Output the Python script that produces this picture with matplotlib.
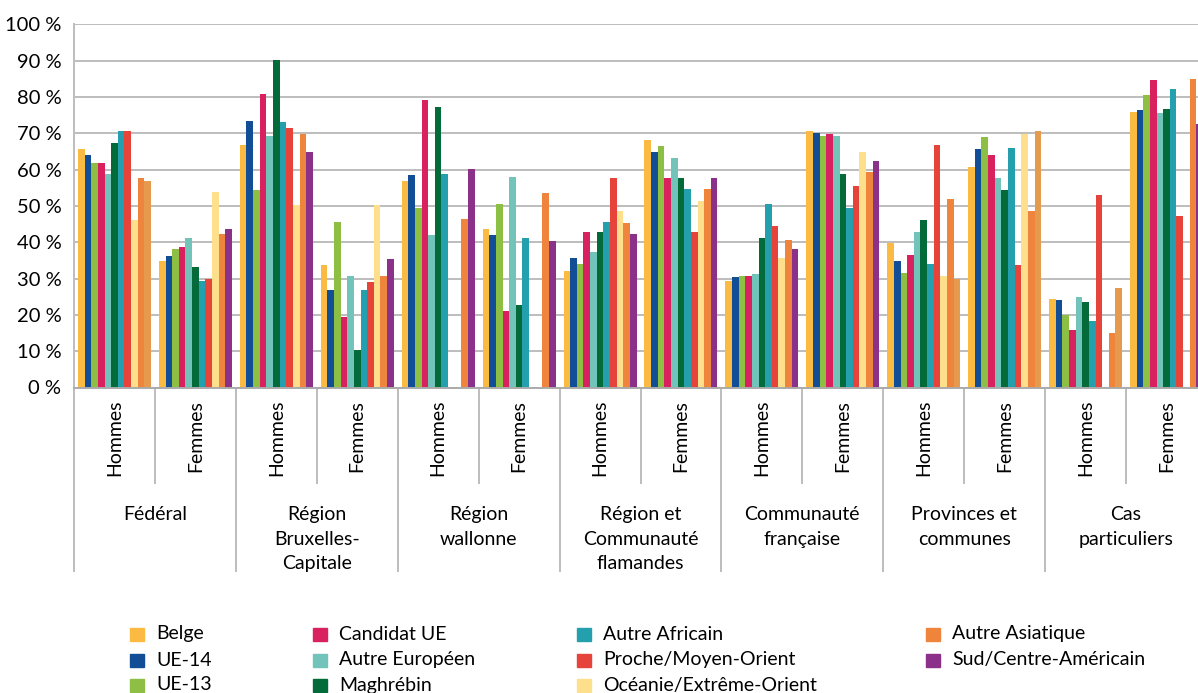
import numpy as np
import matplotlib
matplotlib.use("Agg")
import matplotlib.pyplot as plt
import matplotlib.transforms as mtransforms
from matplotlib.patches import Rectangle

plt.rcParams['font.family'] = ['Lato', 'DejaVu Sans']

nan = np.nan

# groupes : 7 niveaux x (Hommes, Femmes)
niveaux = ["Fédéral", "Région\nBruxelles-\nCapitale", "Région\nwallonne",
           "Région et\nCommunauté\nflamandes", "Communauté\nfrançaise",
           "Provinces et\ncommunes", "Cas\nparticuliers"]
sexes = ["Hommes", "Femmes"]

series = ["Belge", "UE-14", "UE-13", "Candidat UE", "Autre Européen", "Maghrébin",
          "Autre Africain", "Proche/Moyen-Orient", "Océanie/Extrême-Orient",
          "Autre Asiatique", "Sud/Centre-Américain"]

belge      = [65.7, 34.7, 66.8, 33.7, 56.8, 43.6, 32.0, 68.1, 29.3, 70.6, 39.8, 60.7, 24.3, 75.8]
ue14       = [64.0, 36.2, 73.4, 26.8, 58.5, 42.0, 35.6, 64.8, 30.4, 70.1, 34.8, 65.7, 24.1, 76.4]
ue13       = [61.8, 38.1, 54.4, 45.5, 49.4, 50.5, 34.0, 66.5, 30.7, 69.2, 31.5, 69.0, 19.9, 80.5]
candidat   = [61.8, 38.7, 80.8, 19.4, 79.2, 21.0, 42.8, 57.7, 30.7, 69.8, 36.5, 64.0, 15.8, 84.7]
autre_eur  = [58.8, 41.1, 69.2, 30.7, 42.0, 57.9, 37.3, 63.2, 31.2, 69.2, 42.8, 57.7, 24.9, 75.6]
maghreb    = [67.3, 33.1, 90.2, 10.3, 77.2, 22.7, 42.8, 57.7, 41.1, 58.8, 46.1, 54.4, 23.5, 76.7]
autre_afr  = [70.6, 29.3, 73.1, 26.8, 58.8, 41.1, 45.5, 54.6, 50.5, 49.4, 34.0, 65.9, 18.3, 82.2]
proche     = [70.6, 29.8, 71.4, 29.0, nan, nan, 57.7, 42.8, 44.4, 55.5, 66.8, 33.7, 53.0, 47.2]
oceanie    = [46.1, 53.8, 50.2, 50.2, nan, nan, 48.6, 51.3, 35.6, 64.8, 30.7, 69.8, nan, nan]
autre_asia = [57.7, 42.2, 69.9, 30.7, 46.4, 53.5, 45.3, 54.6, 40.6, 59.3, 51.9, 48.6, 15.0, 84.9]
sud_am     = [56.8, 43.6, 64.8, 35.4, 60.1, 40.3, 42.2, 57.7, 38.1, 62.4, 29.8, 70.6, 27.4, 72.5]

valeurs = [belge, ue14, ue13, candidat, autre_eur, maghreb, autre_afr,
           proche, oceanie, autre_asia, sud_am]

couleurs = ["#FBBA42", "#124E96", "#8DBF45", "#D9215F", "#72C3BA", "#036B3A",
            "#239FAD", "#E6433A", "#FEDF8C", "#EF843C", "#8B3189"]
# dans l'original, la dernière barre de certains groupes est brun-orangé
tan_groupes = [0, 10, 11, 12]

W, H = 1198, 693
fig = plt.figure(figsize=(W / 100, H / 100), dpi=100)
# axe en pixels : gauche 74, droite 1207 (coupé), bas 387.5, haut 24.3
ax = fig.add_axes([74 / W, 1 - 387.5 / H, 1133 / W, 363.2 / H])

ngr = len(niveaux) * 2
x = np.arange(ngr) + 0.5
bw = 0.082
for j, vals in enumerate(valeurs):
    cols = [couleurs[j]] * ngr
    if j == len(valeurs) - 1:
        for g in tan_groupes:
            cols[g] = "#E59A4E"
    ax.bar(x + (j - 5) * bw, vals, width=bw, color=cols, linewidth=0, zorder=3)

ax.set_xlim(0, ngr)
ax.set_ylim(0, 100)
ax.set_yticks(np.arange(0, 101, 10))
ax.set_yticklabels([f"{v} %" for v in range(0, 101, 10)], fontsize=14.5)
ax.tick_params(axis='y', length=0, pad=9)
ax.set_xticks([])
ax.grid(axis='y', color="#ABABAB", linewidth=1.1, zorder=0)
ax.set_axisbelow(True)
for s in ax.spines.values():
    s.set_visible(False)

# séparateurs sous l'axe
trans = mtransforms.blended_transform_factory(ax.transData, ax.transAxes)
sep_col = "#BDBDBD"
ax.plot([0, ngr], [0, 0], transform=trans, color="#ABABAB", lw=1.4, clip_on=False, zorder=4)
ax.plot([0, 0], [1, -0.505], transform=trans, color=sep_col, lw=1.4, clip_on=False)
for k in range(1, ngr + 1):
    y_bas = -0.263 if k % 2 == 1 else -0.505
    ax.plot([k, k], [0, y_bas], transform=trans, color=sep_col, lw=1.4, clip_on=False)

for g in range(ngr):
    ax.text(x[g], -0.034, sexes[g % 2], transform=trans, rotation=90,
            ha='center', va='top', fontsize=14)
for k, nom in enumerate(niveaux):
    ax.text(2 * k + 1, -0.326, nom, transform=trans, ha='center', va='top',
            fontsize=14, linespacing=1.55)

# légende manuelle
col_x = [130, 313, 577, 926]
row_y = [634, 660, 685]
for j, nom in enumerate(series):
    c, r = divmod(j, 3)
    px, py = col_x[c], row_y[r]
    fig.patches.append(Rectangle((px / W, 1 - (py + 6.5) / H), 14 / W, 13 / H,
                                 transform=fig.transFigure, color=couleurs[j]))
    fig.text((px + 26) / W, 1 - py / H, nom, ha='left', va='center', fontsize=14)

fig.savefig("out.png", dpi=100)
